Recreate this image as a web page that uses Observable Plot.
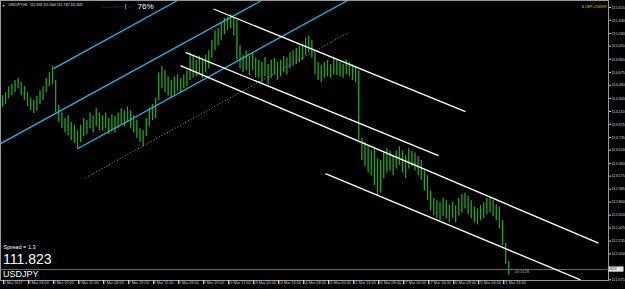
<!DOCTYPE html>
<html><head><meta charset="utf-8">
<script src="https://cdn.jsdelivr.net/npm/d3@7"></script>
<script src="https://cdn.jsdelivr.net/npm/@observablehq/plot@0.6"></script>
<style>
html,body{margin:0;padding:0;background:#000;}
#chart{width:625px;height:289px;overflow:hidden;background:#000}
</style></head><body><div id="chart"></div>
<script>
// USDJPY H1 – each entry = 2 hourly bars (high / low)
const highs = [
114.34,114.38,114.47,114.50,114.56,114.59,114.53,114.47,114.38,114.30,
114.27,114.33,114.41,114.47,114.59,114.67,114.76,114.56,114.20,114.09,
114.01,114.05,113.95,113.91,113.83,113.91,114.01,113.98,114.09,114.05,
114.15,114.09,114.05,114.09,114.01,114.06,114.04,114.09,114.15,114.12,
114.18,114.12,114.05,113.98,113.86,113.83,114.01,114.15,114.21,114.30,
114.67,114.76,114.70,114.61,114.56,114.61,114.64,114.59,114.64,114.70,
114.96,114.91,114.85,114.91,114.88,114.92,114.99,115.14,115.28,115.31,
115.40,115.46,115.48,115.51,115.46,115.43,115.06,114.92,114.99,114.91,
114.96,114.88,114.85,114.82,114.89,114.79,114.85,114.88,114.82,114.85,
114.91,114.88,114.96,114.99,115.02,115.05,115.08,115.17,115.20,115.14,
114.96,114.82,114.78,114.82,114.85,114.79,114.88,114.85,114.82,114.79,
114.85,114.82,114.79,114.76,114.70,113.72,113.66,113.60,113.54,113.57,
113.43,113.40,113.51,113.57,113.54,113.47,113.54,113.60,113.54,113.47,
113.57,113.54,113.51,113.46,113.40,113.25,113.18,112.96,112.85,112.82,
112.79,112.85,112.82,112.76,112.79,112.75,112.85,112.91,112.93,112.88,
112.82,112.73,112.70,112.75,112.79,112.85,112.88,112.82,112.76,112.73,
112.53,112.20,111.94];
const lows = [
114.17,114.21,114.30,114.34,114.38,114.44,114.34,114.27,114.18,114.12,
114.08,114.12,114.21,114.27,114.38,114.47,114.50,114.09,113.95,113.86,
113.80,113.76,113.69,113.65,113.57,113.66,113.75,113.78,113.86,113.80,
113.89,113.83,113.83,113.86,113.78,113.83,113.80,113.86,113.92,113.89,
113.95,113.86,113.80,113.72,113.66,113.60,113.75,113.89,113.98,114.01,
114.27,114.44,114.38,114.33,114.30,114.35,114.41,114.38,114.44,114.47,
114.56,114.59,114.61,114.64,114.59,114.67,114.73,114.88,114.99,115.06,
115.14,115.22,115.28,115.31,115.21,114.85,114.73,114.67,114.70,114.63,
114.70,114.60,114.59,114.53,114.61,114.50,114.59,114.64,114.56,114.61,
114.67,114.64,114.73,114.76,114.79,114.82,114.85,114.92,114.96,114.88,
114.64,114.56,114.53,114.59,114.61,114.59,114.64,114.63,114.61,114.59,
114.64,114.61,114.56,114.53,113.69,113.40,113.31,113.22,113.18,113.04,
112.89,112.93,113.14,113.22,113.25,113.18,113.28,113.33,113.22,113.14,
113.28,113.31,113.25,113.18,113.11,112.96,112.82,112.67,112.60,112.56,
112.53,112.59,112.56,112.50,112.56,112.50,112.60,112.64,112.70,112.62,
112.56,112.50,112.47,112.53,112.56,112.62,112.64,112.59,112.53,112.41,
112.17,111.90,111.74];

const xLabels = ["2 Mar 2017","3 Mar 03:00","3 Mar 19:00","6 Mar 11:00","7 Mar 03:00","7 Mar 19:00",
"8 Mar 11:00","9 Mar 03:00","9 Mar 19:00","10 Mar 11:00","13 Mar 00:00","13 Mar 16:00","14 Mar 08:00",
"15 Mar 00:00","15 Mar 16:00","16 Mar 08:00","17 Mar 00:00","17 Mar 16:00","20 Mar 08:00","21 Mar 00:00","21 Mar 16:00"];
const labelEvery = 8; // entries between time labels

// price scale labels (111.860 sits under the bid label and is hidden there)
const yTicks = [115.615,115.430,115.240,115.055,114.865,114.675,114.490,114.300,114.110,113.925,113.735,
113.550,113.360,113.175,112.985,112.800,112.610,112.425,112.235,112.050,111.675];

const bid = 111.823;
const header = "USDJPY,H1  111.926 111.944 111.735 111.823";
const spreadText = "Spread = 1.3";
const symbol = "USDJPY";
const tradeInfo = "\u0394 CEP+258999";
const progress = "76%";
const timer = "-00:14:28";

// trend objects: anchor (entry index, price) -> (entry index, price)
const cyanLines = [
  {i1:16.32, p1:114.731, i2:56.0,  p2:115.716},
  {i1:-0.64, p1:113.645, i2:82.88, p2:115.716},
  {i1:24.0,  p1:113.572, i2:110.4, p2:115.716}
];
const whiteLines = [
  {i1:67.52, p1:115.593, i2:148.16, p2:114.108},
  {i1:58.56, p1:114.967, i2:139.52, p2:113.471},
  {i1:56.96, p1:114.774, i2:190.72, p2:112.206},
  {i1:103.36,p1:113.210, i2:184.96, p2:111.674}
];
const dottedLines = [
  {i1:26.56, p1:113.152, i2:110.72, p2:115.252}
];

const bars = highs.map((h, i) => ({i, high: h, low: lows[i]}));
const xTicks = xLabels.map((_, k) => k * labelEvery);
const font = "Liberation Sans, Arial, sans-serif";

const plot = Plot.plot({
  width: 625, height: 289,
  marginTop: 0, marginLeft: 0, marginRight: 17, marginBottom: 9,
  style: {background: "#000", color: "#c8c8c8", fontFamily: font, overflow: "visible"},
  x: {domain: [0, 160], range: [2, 502], axis: null},
  y: {domain: [111.675, 115.615], range: [279.3, 7], axis: null},
  marks: [
    Plot.ruleY([bid], {stroke: "#6e6e6e", strokeWidth: 1}),
    Plot.ruleX(bars, {x: "i", y1: "low", y2: "high", stroke: "#22a622", strokeWidth: 1.3}),
    Plot.link(dottedLines, {x1: "i1", y1: "p1", x2: "i2", y2: "p2", stroke: "#9a9a9a", strokeWidth: 1, strokeDasharray: "1,2", clip: true}),
    Plot.link(cyanLines, {x1: "i1", y1: "p1", x2: "i2", y2: "p2", stroke: "#1cb8ee", strokeWidth: 1.3, clip: true}),
    Plot.link(whiteLines, {x1: "i1", y1: "p1", x2: "i2", y2: "p2", stroke: "#ffffff", strokeWidth: 1.3, clip: true}),
    Plot.frame({stroke: "#9a9a9a", strokeWidth: 1}),
    Plot.axisY(yTicks, {anchor: "right", tickSize: 2, tickPadding: 1, fontSize: 3.8, tickFormat: d => d.toFixed(3), fill: "#cfd6de", stroke: "#cfcfcf"}),
    Plot.axisX(xTicks, {anchor: "bottom", tickSize: 4, tickPadding: -3, textAnchor: "start", dx: 1, fontSize: 3.8, tickFormat: i => xLabels[i / labelEvery], fill: "#cfcfcf", stroke: "#cfcfcf"}),
    Plot.text(["\u25BC"], {frameAnchor: "top-left", dx: 3, dy: 5, fontSize: 3.5, fill: "#e0e0e0", textAnchor: "middle", lineAnchor: "middle"}),
    Plot.text([header], {frameAnchor: "top-left", dx: 8, dy: 4.8, fontSize: 3.6, fill: "#e6e6e6", textAnchor: "start", lineAnchor: "middle"}),
    Plot.text([":.:.:.:.:.:.:.:.:.:.:"], {frameAnchor: "top-left", dx: 100, dy: 6, fontSize: 4, fill: "#88b4d8", textAnchor: "start", lineAnchor: "middle"}),
    Plot.text(["|"], {frameAnchor: "top-left", dx: 125, dy: 6, fontSize: 6, fill: "#ffffff", textAnchor: "middle", lineAnchor: "middle"}),
    Plot.text([":.:."], {frameAnchor: "top-left", dx: 127.5, dy: 6, fontSize: 4, fill: "#88b4d8", textAnchor: "start", lineAnchor: "middle"}),
    Plot.text([progress], {frameAnchor: "top-left", dx: 137, dy: 6.4, fontSize: 8, fill: "#ffffff", textAnchor: "start", lineAnchor: "middle"}),
    Plot.text([tradeInfo], {frameAnchor: "top-right", dx: -2, dy: 6, fontSize: 3.6, fill: "#d2d200", textAnchor: "end", lineAnchor: "middle"}),
    Plot.text([spreadText], {frameAnchor: "bottom-left", dx: 3, dy: -32.8, fontSize: 5.6, fill: "#ffffff", textAnchor: "start", lineAnchor: "middle"}),
    Plot.text([bid.toFixed(3)], {frameAnchor: "bottom-left", dx: 2.5, dy: -21.2, fontSize: 14, fill: "#ffffff", textAnchor: "start", lineAnchor: "middle"}),
    Plot.text([symbol], {frameAnchor: "bottom-left", dx: 2.5, dy: -6.2, fontSize: 9, fill: "#ffffff", textAnchor: "start", lineAnchor: "middle"}),
    Plot.text([timer], {x: bars.length - 1, y: bid, dx: 5, dy: 2, fontSize: 3.6, fill: "#b8b8b8", textAnchor: "start", lineAnchor: "middle"})
  ]
});

const svg = d3.select(plot);
const yb = plot.scale("y").apply(bid);
svg.append("rect").attr("x", 608.5).attr("y", yb - 2.6).attr("width", 15).attr("height", 5.2).attr("fill", "#e6e6e6");
svg.append("text").attr("x", 610).attr("y", yb).attr("dy", "0.35em").attr("font-size", 3.8)
  .attr("font-family", font).attr("fill", "#6a1010").text(bid.toFixed(3));

document.getElementById("chart").appendChild(plot);
</script>
</body></html>
